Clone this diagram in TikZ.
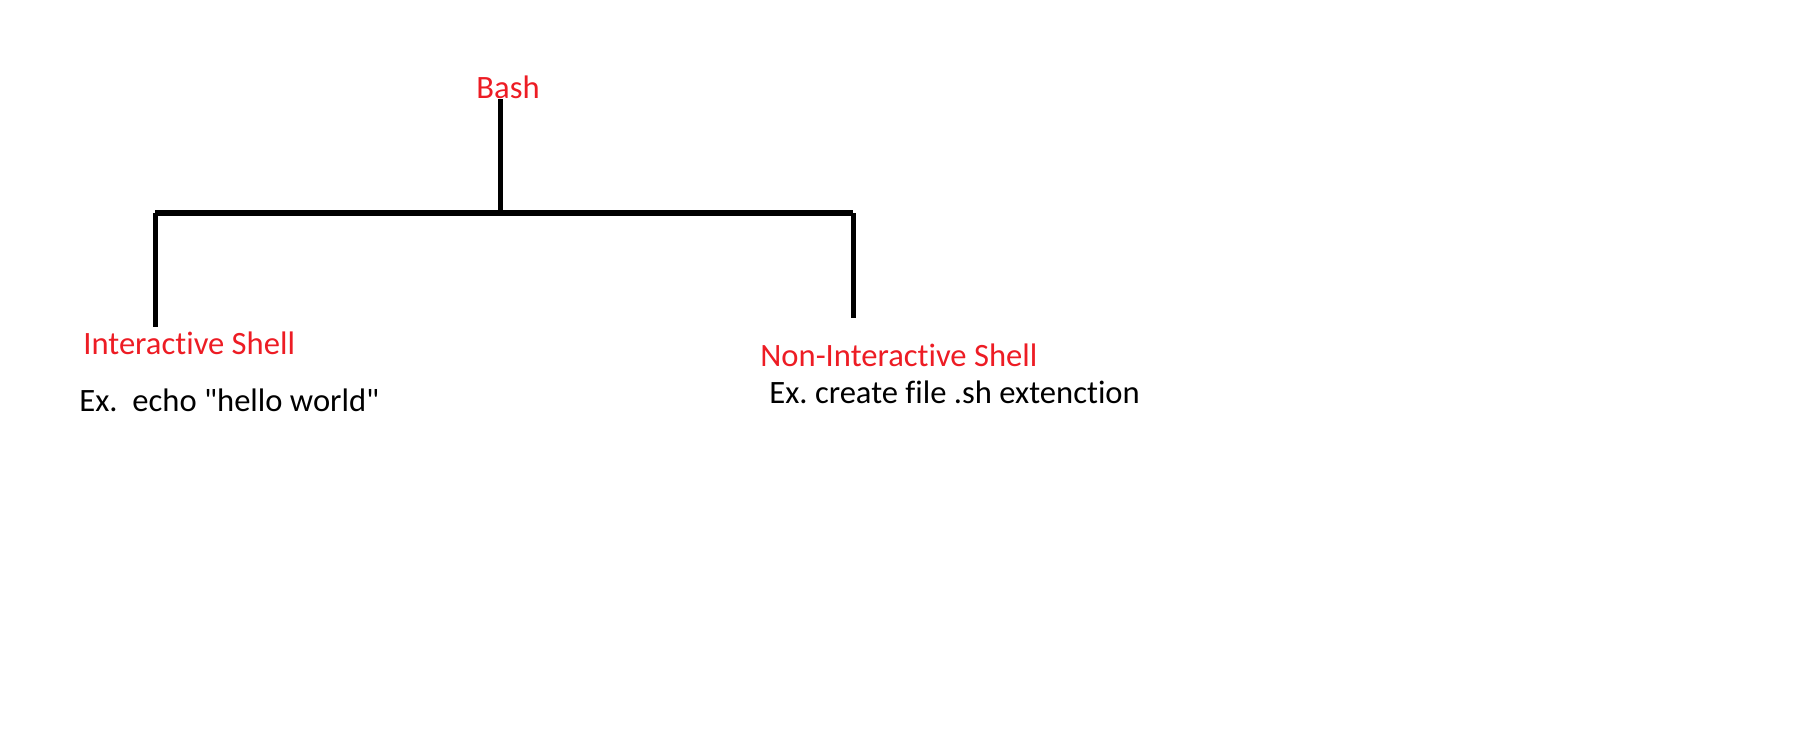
\documentclass[tikz,border=0pt]{standalone}
\usepackage{fontspec}
\setmainfont{Carlito}[Ligatures={TeXOff,NoCommon}]
\usepackage{tikz}
\usetikzlibrary{calc}
\definecolor{bashred}{RGB}{237,28,36}
\frenchspacing

\begin{document}
\begin{tikzpicture}[x=0.5pt,y=-0.5pt,every node/.style={inner sep=0pt,font=\fontsize{16.3}{19}\selectfont},
  title/.style={text=bashred,anchor=base west},
  example/.style={text=black,anchor=base west},
  branch/.style={line width=2.5pt,black}]
  \useasboundingbox (0,0) rectangle (1804,729);

  \node[title] (bash) at (476,98) {Bash};
  \node[title] (inter) at (83,354) {Interactive Shell};
  \node[example] (interex) at (79,411) {Ex.\ \ echo "hello world"};
  \node[title] (noninter) at (760,366) {Non-Interactive Shell};
  \node[example] (noninterex) at (769,403) {Ex. create file .sh extenction};

  \coordinate (top) at (500,99);
  \coordinate (mid) at (500,213);
  \coordinate (lj) at (155,213);
  \coordinate (rj) at (853,213);
  \coordinate (le) at (155,327);
  \coordinate (re) at (853,318);

  \draw[branch] (top) -- (mid);
  \draw[branch,line width=3pt] (lj) -- (rj);
  \draw[branch] (lj) -- (le);
  \draw[branch] (rj) -- (re);
\end{tikzpicture}
\end{document}
